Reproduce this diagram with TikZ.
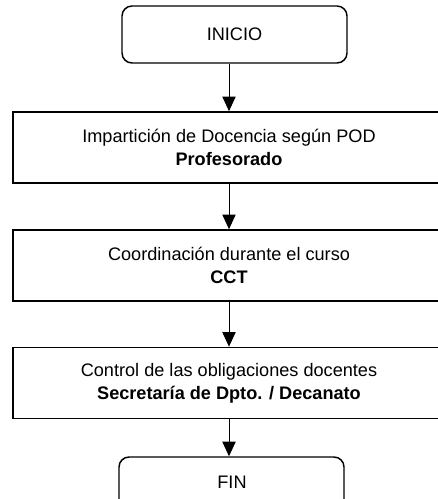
\documentclass[tikz,border=0pt]{standalone}
\usepackage{fontspec}
\setmainfont{Liberation Sans}
\usetikzlibrary{arrows.meta}
\begin{document}
\begin{tikzpicture}[x=0.75pt,y=-0.75pt,
  every node/.style={font=\fontsize{13.6}{17.5}\selectfont, align=center, inner sep=0pt},
  term/.style={draw, line width=1.1pt, rounded corners=7.5pt, minimum width=168.75pt, minimum height=42.75pt},
  proc/.style={draw, line width=1.2pt, minimum width=324pt, minimum height=53.25pt},
  arr/.style={line width=0.75pt, -{Triangle[width=10pt,length=11pt]}}]
\useasboundingbox (0,0) rectangle (438,499);
\clip (0,0) rectangle (438,499);
\node[term] (inicio) at (234.5,34.5) {INICIO};
\node[proc] (b1) at (229,147.5) {Impartición de Docencia según POD\\\textbf{Profesorado}};
\node[proc] (b2) at (229,265.5) {Coordinación durante el curso\\\textbf{CCT}};
\node[proc] (b3) at (229,383) {Control de las obligaciones docentes\\\textbf{Secretaría de Dpto. / Decanato}};
\node[term] (fin) at (231.5,485.5) {};
\node (fintext) at (232,482) {FIN};
\draw[arr] (b1.north |- inicio.south) -- (b1.north);
\draw[arr] (b1.south) -- (b2.north);
\draw[arr] (b2.south) -- (b3.north);
\draw[arr] (b3.south) -- (b3.south |- fin.north);
\end{tikzpicture}
\end{document}
